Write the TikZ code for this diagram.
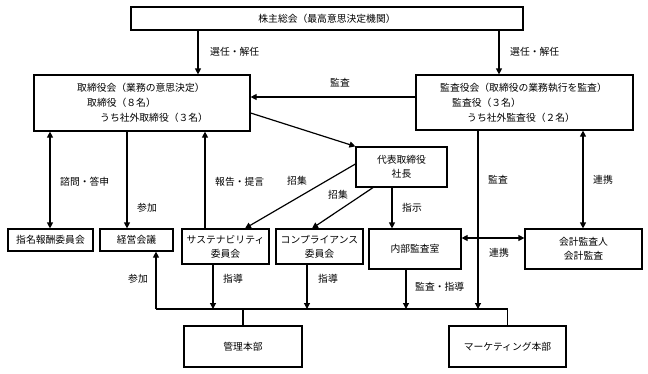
\documentclass[tikz,border=0pt]{standalone}
\usepackage{fontspec}
\setmainfont{Noto Sans CJK JP}
\usetikzlibrary{arrows.meta}
\begin{document}
\begin{tikzpicture}[x=1pt,y=-1pt,
  box/.style={draw,line width=1.2pt,inner sep=0pt,align=center,font=\fontsize{9.8}{14}\selectfont},
  lbl/.style={anchor=west,inner sep=0pt,font=\fontsize{9.8}{12}\selectfont},
  txt/.style={anchor=west,inner sep=0pt,font=\fontsize{9.8}{12}\selectfont},
  tip/.tip={Triangle[length=6pt,width=6pt]},
  arr/.style={line width=1.2pt,-tip},
  darr/.style={line width=1.2pt,tip-tip},
  ln/.style={line width=1.2pt}]
\useasboundingbox (0,0) rectangle (648,373);
% boxes
\node[box,minimum width=392pt,minimum height=23pt] (sh) at (327,18.5) {株主総会（最高意思決定機関）};
\node[box,minimum width=216pt,minimum height=56pt] (tb) at (142,103) {};
\node[txt] (tb1) at (77,88) {取締役会（業務の意思決定）};
\node[txt] (tb2) at (87,103) {取締役（８名）};
\node[txt] (tb3) at (100,118) {うち社外取締役（３名）};
\node[box,minimum width=217pt,minimum height=55pt] (ka) at (524.5,102.5) {};
\node[txt] (ka1) at (440,88) {監査役会（取締役の業務執行を監査）};
\node[txt] (ka2) at (452,103) {監査役（３名）};
\node[txt] (ka3) at (467,118) {うち社外監査役（２名）};
\node[box,minimum width=91pt,minimum height=40pt] (dai) at (401.5,167) {代表取締役\\社長};
\node[box,minimum width=85pt,minimum height=22pt] (shimei) at (50.5,240) {指名報酬委員会};
\node[box,minimum width=73pt,minimum height=22pt] (keiei) at (136.5,240) {経営会議};
\node[box,minimum width=87pt,minimum height=35pt] (sust) at (225.5,246.5) {サステナビリティ\\委員会};
\node[box,minimum width=87pt,minimum height=35pt] (comp) at (319.5,246.5) {コンプライアンス\\委員会};
\node[box,minimum width=92pt,minimum height=40pt] (naibu) at (415,249) {内部監査室};
\node[box,minimum width=117pt,minimum height=40pt] (kaikei) at (583.5,249) {会計監査人\\会計監査};
\node[box,minimum width=118pt,minimum height=41pt] (kanri) at (243,346.5) {管理本部};
\node[box,minimum width=117pt,minimum height=41pt] (mkt) at (507.5,346.5) {マーケティング本部};
% connectors
\draw[arr] (198,0 |- sh.south) -- (198,0 |- tb.north);
\node[lbl] (l1) at (210,52) {選任・解任};
\draw[arr] (499,0 |- sh.south) -- (499,0 |- ka.north);
\node[lbl] (l2) at (510,52) {選任・解任};
\draw[arr] (ka.west |- 0,97) -- (tb.east |- 0,97);
\node[lbl] (l3) at (330,83) {監査};
\draw[arr] (tb.east |- 0,113) -- (dai.north west);
\draw[arr] (dai.west |- 0,164) -- (245,0 |- sust.north);
\node[lbl] (l4) at (287,181) {招集};
\draw[arr] (373,0 |- dai.south) -- (312,0 |- comp.north);
\node[lbl] (l5) at (328,195) {招集};
\draw[darr] (50,0 |- tb.south) -- (50,0 |- shimei.north);
\node[lbl] (l6) at (60,182) {諮問・答申};
\draw[arr] (127,0 |- tb.south) -- (127,0 |- keiei.north);
\node[lbl] (l7) at (137,208) {参加};
\draw[arr] (205,0 |- sust.north) -- (205,0 |- tb.south);
\node[lbl] (l8) at (215,182) {報告・提言};
\draw[arr] (392,0 |- dai.south) -- (392,0 |- naibu.north);
\node[lbl] (l9) at (402,208) {指示};
\coordinate (bl) at (156,309);
\coordinate (br) at (507.5,309);
\draw[arr] (478,0 |- ka.south) -- (478,309);
\node[lbl] (l10) at (488,180) {監査};
\draw[darr] (583,0 |- ka.south) -- (583,0 |- kaikei.north);
\node[lbl] (l11) at (593,180) {連携};
\draw[darr] (naibu.east |- 0,238) -- (kaikei.west |- 0,238);
\node[lbl] (l12) at (489,253) {連携};
\draw[ln] (mkt.north) -- (br) -- (bl);
\draw[ln] (kanri.north) -- (kanri.north |- bl);
\draw[arr] (bl) -- (bl |- keiei.south);
\node[lbl] (l13) at (128,279) {参加};
\draw[arr] (213,0 |- sust.south) -- (213,309);
\node[lbl] (l14) at (223,279) {指導};
\draw[arr] (307,0 |- comp.south) -- (307,309);
\node[lbl] (l15) at (318,279) {指導};
\draw[arr] (406,0 |- naibu.south) -- (406,309);
\node[lbl] (l16) at (415,287) {監査・指導};
\end{tikzpicture}
\end{document}
